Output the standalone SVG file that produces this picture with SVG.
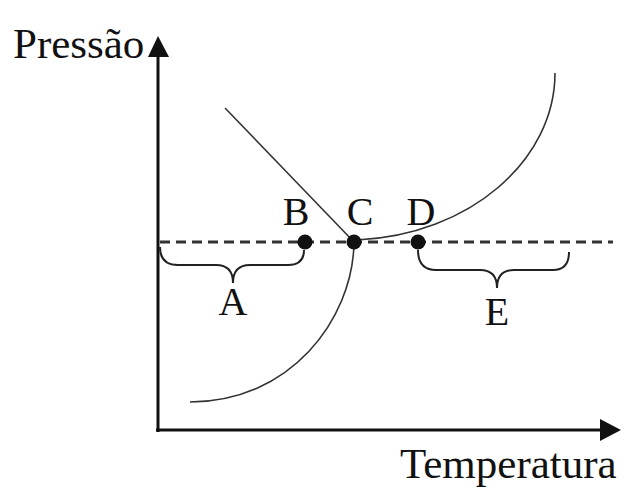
<svg xmlns="http://www.w3.org/2000/svg" width="640" height="492" viewBox="0 0 640 492">
<style>
.axis{stroke:#111;stroke-width:3;fill:none;}
.curve{stroke:#333;stroke-width:1.6;fill:none;}
.brace{stroke:#222;stroke-width:2;fill:none;}
.dash{stroke:#333;stroke-width:3;stroke-dasharray:10 6;fill:none;}
.dot{fill:#111;}
</style>
<rect width="640" height="492" fill="#fff"/>
<g id="axes">
<line class="axis" x1="158" y1="432" x2="158" y2="54"/>
<polygon points="158,36 148,57 169,57" fill="#111"/>
<line class="axis" x1="156" y1="430" x2="603" y2="430"/>
<polygon points="621,430 600,419 600,441" fill="#111"/>
<text style="font-family:'Liberation Serif',serif;font-size:43px" fill="#111" x="13" y="58">Pressão</text>
<text style="font-family:'Liberation Serif',serif;font-size:43px" fill="#111" x="400" y="478">Temperatura</text>
</g>
<g id="connectors">
<line class="dash" x1="160" y1="242" x2="613" y2="242"/>
<line class="curve" x1="225" y1="108" x2="354" y2="242"/>
<path class="curve" d="M357,240 C470,235 555,160 555,73"/>
<path class="curve" d="M354,244 C352,320 290,402 190,402"/>
<path class="brace" d="M160,247 Q160,265 178,265 L216,265 Q233,265 233,283 Q233,265 250,265 L288,265 Q304,265 304,250"/>
<path class="brace" d="M418,250 Q418,270 436,270 L480,270 Q497,270 497,288 Q497,270 514,270 L553,270 Q569,270 569,252"/>
</g>
<g id="B"><circle class="dot" cx="305" cy="242" r="7.5"/><text style="font-family:'Liberation Serif',serif;font-size:40px" text-anchor="middle" fill="#111" x="296" y="225">B</text></g>
<g id="C"><circle class="dot" cx="354" cy="242" r="7.5"/><text style="font-family:'Liberation Serif',serif;font-size:40px" text-anchor="middle" fill="#111" x="360" y="225">C</text></g>
<g id="D"><circle class="dot" cx="418" cy="242" r="7.5"/><text style="font-family:'Liberation Serif',serif;font-size:40px" text-anchor="middle" fill="#111" x="421" y="225">D</text></g>
<g id="A"><text style="font-family:'Liberation Serif',serif;font-size:40px" text-anchor="middle" fill="#111" x="233" y="315">A</text></g>
<g id="E"><text style="font-family:'Liberation Serif',serif;font-size:40px" text-anchor="middle" fill="#111" x="497" y="325">E</text></g>
</svg>
